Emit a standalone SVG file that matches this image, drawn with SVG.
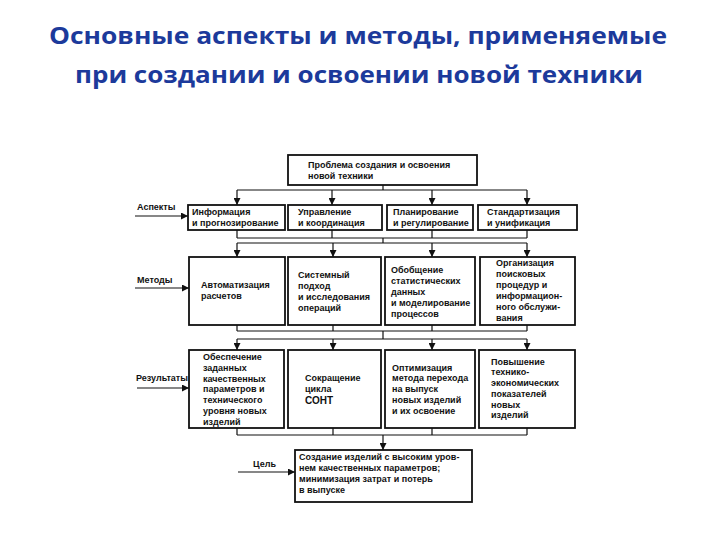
<svg xmlns="http://www.w3.org/2000/svg" width="720" height="540" viewBox="0 0 720 540">
<style>
.title{font-family:"Open Sans","Liberation Sans",sans-serif;font-weight:bold;font-size:24px;fill:#1c3a9b}
.box{fill:#fff;stroke:#111;stroke-width:1.8}
.t{font-family:"Liberation Sans",Arial,sans-serif;font-weight:bold;font-size:9px;fill:#111}
.lab{font-family:"Liberation Sans",Arial,sans-serif;font-weight:bold;font-size:9px;fill:#111}
.c{fill:none;stroke:#111;stroke-width:1.2}
</style>
<defs>
<marker id="ar" viewBox="0 0 10 10" refX="10" refY="5" markerWidth="7" markerHeight="7" orient="auto" markerUnits="userSpaceOnUse">
<path d="M0,0 L10,5 L0,10 Z" fill="#111"/>
</marker>
</defs>
<rect width="720" height="540" fill="#fff"/>
<g id="title">
<text class="title" x="358" y="44" text-anchor="middle" textLength="618" lengthAdjust="spacingAndGlyphs">Основные аспекты и методы, применяемые</text>
<text class="title" x="359" y="83" text-anchor="middle" textLength="568" lengthAdjust="spacingAndGlyphs">при создании и освоении новой техники</text>
</g>
<g id="connectors">
<path class="c" d="M383,185 V190 M237,190 H527"/>
<path class="c" marker-end="url(#ar)" d="M237,190 V205"/>
<path class="c" marker-end="url(#ar)" d="M332,190 V205"/>
<path class="c" marker-end="url(#ar)" d="M432,190 V205"/>
<path class="c" marker-end="url(#ar)" d="M527,190 V205"/>
<path class="c" d="M237,230 V238 M332,230 V238 M432,230 V238 M527,230 V238 M237,238 H527 M383,238 V243 M237,243 H527"/>
<path class="c" marker-end="url(#ar)" d="M237,243 V257"/>
<path class="c" marker-end="url(#ar)" d="M333,243 V257"/>
<path class="c" marker-end="url(#ar)" d="M432,243 V257"/>
<path class="c" marker-end="url(#ar)" d="M527,243 V257"/>
<path class="c" d="M237,325 V331 M333,325 V331 M432,325 V331 M527,325 V331 M237,331 H527 M383,331 V339 M237,339 H527"/>
<path class="c" marker-end="url(#ar)" d="M237,339 V350"/>
<path class="c" marker-end="url(#ar)" d="M333,339 V350"/>
<path class="c" marker-end="url(#ar)" d="M432,339 V350"/>
<path class="c" marker-end="url(#ar)" d="M527,339 V350"/>
<path class="c" d="M237,428 V435 M333,428 V435 M432,428 V435 M527,428 V435 M237,435 H527"/>
<path class="c" marker-end="url(#ar)" d="M383,435 V450"/>
<path class="c" marker-end="url(#ar)" d="M135,216 H188"/>
<path class="c" marker-end="url(#ar)" d="M135,288 H189"/>
<path class="c" marker-end="url(#ar)" d="M137,388 H189"/>
<path class="c" marker-end="url(#ar)" d="M238,472 H295"/>
</g>
<g id="labels">
<text class="lab" x="137" y="210">Аспекты</text>
<text class="lab" x="137" y="283">Методы</text>
<text class="lab" x="136" y="381">Результаты</text>
<text class="lab" x="253" y="467">Цель</text>
</g>
<g id="n0"><rect class="box" x="288" y="155" width="189" height="30"/>
<text class="t" x="308" y="168">Проблема создания и освоения</text><text class="t" x="308" y="179">новой техники</text></g>
<g id="n1"><rect class="box" x="188" y="205" width="97" height="25"/>
<text class="t" x="192" y="215">Информация</text><text class="t" x="192" y="226">и прогнозирование</text></g>
<g id="n2"><rect class="box" x="288" y="205" width="94" height="25"/>
<text class="t" x="298" y="215">Управление</text><text class="t" x="298" y="226">и координация</text></g>
<g id="n3"><rect class="box" x="387" y="205" width="86" height="25"/>
<text class="t" x="393" y="215">Планирование</text><text class="t" x="393" y="226">и регулирование</text></g>
<g id="n4"><rect class="box" x="478" y="205" width="99" height="25"/>
<text class="t" x="487" y="215">Стандартизация</text><text class="t" x="487" y="226">и унификация</text></g>
<g id="n5"><rect class="box" x="189" y="257" width="96" height="68"/>
<text class="t" x="201" y="288">Автоматизация</text><text class="t" x="201" y="299">расчетов</text></g>
<g id="n6"><rect class="box" x="288" y="257" width="93" height="68"/>
<text class="t" x="298" y="278">Системный</text><text class="t" x="298" y="289">подход</text><text class="t" x="298" y="300">и исследования</text><text class="t" x="298" y="311">операций</text></g>
<g id="n7"><rect class="box" x="385" y="257" width="90" height="68"/>
<text class="t" x="391" y="273">Обобщение</text><text class="t" x="391" y="284">статистических</text><text class="t" x="391" y="295">данных</text><text class="t" x="391" y="306">и моделирование</text><text class="t" x="391" y="317">процессов</text></g>
<g id="n8"><rect class="box" x="480" y="257" width="95" height="68"/>
<text class="t" x="496" y="266">Организация</text><text class="t" x="496" y="277">поисковых</text><text class="t" x="496" y="288">процедур и</text><text class="t" x="496" y="299">информацион-</text><text class="t" x="496" y="310">ного обслужи-</text><text class="t" x="496" y="321">вания</text></g>
<g id="n9"><rect class="box" x="189" y="350" width="95" height="78"/>
<text class="t" x="203" y="360">Обеспечение</text><text class="t" x="203" y="371">заданных</text><text class="t" x="203" y="382">качественных</text><text class="t" x="203" y="392">параметров и</text><text class="t" x="203" y="403">технического</text><text class="t" x="203" y="414">уровня новых</text><text class="t" x="203" y="425">изделий</text></g>
<g id="n10"><rect class="box" x="288" y="350" width="93" height="78"/>
<text class="t" x="305" y="381">Сокращение</text><text class="t" x="305" y="392">цикла</text><text class="t" x="305" y="404" style="font-size:10px">СОНТ</text></g>
<g id="n11"><rect class="box" x="385" y="350" width="90" height="78"/>
<text class="t" x="392" y="371">Оптимизация</text><text class="t" x="392" y="381">метода перехода</text><text class="t" x="392" y="392">на выпуск</text><text class="t" x="392" y="403">новых изделий</text><text class="t" x="392" y="414">и их освоение</text></g>
<g id="n12"><rect class="box" x="479" y="350" width="96" height="78"/>
<text class="t" x="491" y="365">Повышение</text><text class="t" x="491" y="375">технико-</text><text class="t" x="491" y="386">экономических</text><text class="t" x="491" y="397">показателей</text><text class="t" x="491" y="408">новых</text><text class="t" x="491" y="418">изделий</text></g>
<g id="n13"><rect class="box" x="295" y="450" width="177" height="52"/>
<text class="t" x="299" y="460">Создание изделий с высоким уров-</text><text class="t" x="299" y="471">нем качественных параметров;</text><text class="t" x="299" y="482">минимизация затрат и потерь</text><text class="t" x="299" y="493">в выпуске</text></g>
</svg>
